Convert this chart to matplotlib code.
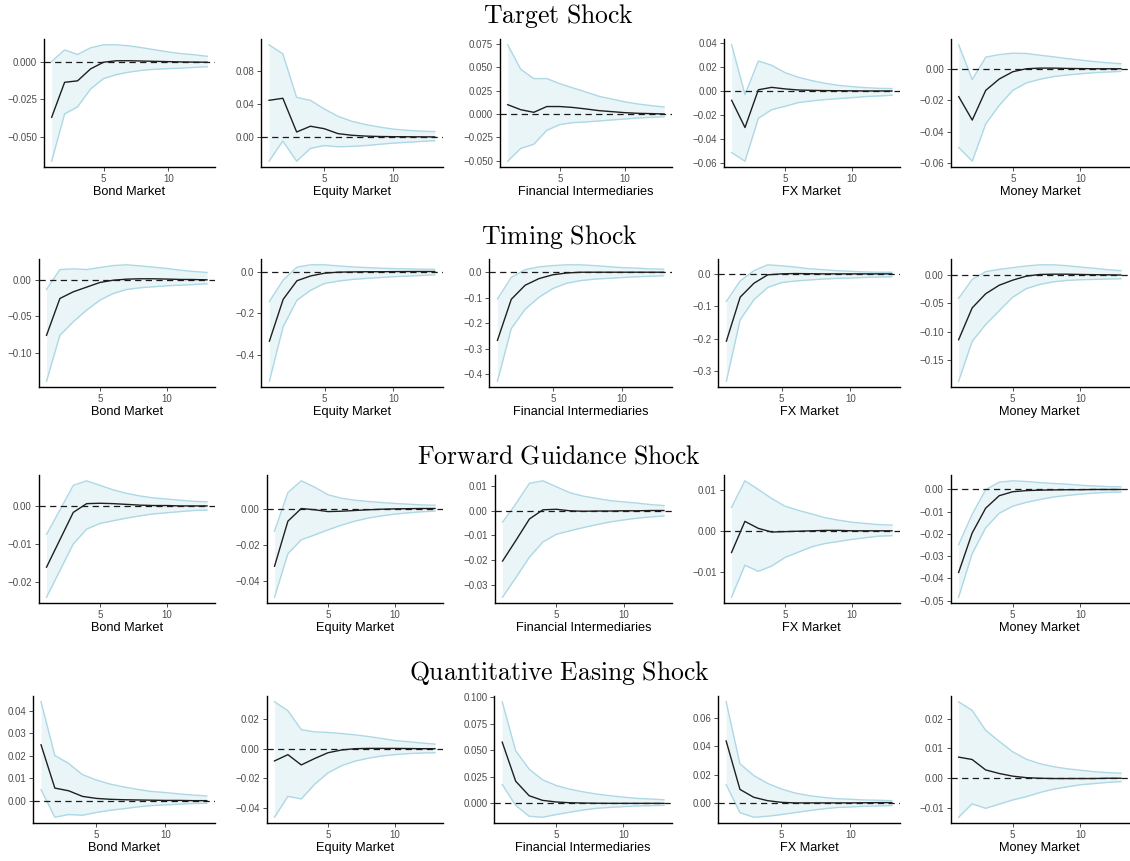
import matplotlib
matplotlib.use("Agg")
import matplotlib.pyplot as plt
import numpy as np

plt.rcParams['font.family'] = ['Liberation Sans', 'DejaVu Sans']
plt.rcParams['mathtext.fontset'] = 'cm'

horizon = list(range(1, 14))
markets = ["Bond Market", "Equity Market", "Financial Intermediaries", "FX Market", "Money Market"]
shocks = ["Target Shock", "Timing Shock", "Forward Guidance Shock", "Quantitative Easing Shock"]

# ---------------- Target shock ----------------
target_est = [
    [-0.037, -0.0135, -0.0125, -0.0045, 0.0000, 0.0010, 0.0010, 0.0008, 0.0006, 0.0004, 0.0002, 0.0001, 0.0000],
    [0.0445, 0.047, 0.006, 0.013, 0.010, 0.004, 0.002, 0.001, 0.0005, 0.0003, 0.0002, 0.0001, 0.0000],
    [0.010, 0.0046, 0.0018, 0.008, 0.008, 0.007, 0.0054, 0.0036, 0.0025, 0.0014, 0.0007, 0.0004, 0.0000],
    [-0.0078, -0.0305, 0.001, 0.003, 0.0017, 0.0008, 0.0005, 0.0003, 0.0002, 0.0001, 0.0, 0.0, 0.0],
    [-0.0177, -0.0326, -0.0137, -0.0065, -0.0019, 0.0, 0.0004, 0.0004, 0.0002, 0.0001, 0.0, 0.0, 0.0],
]
target_lo = [
    [-0.0665, -0.0347, -0.030, -0.018, -0.011, -0.0083, -0.0066, -0.0054, -0.0047, -0.0043, -0.004, -0.0035, -0.003],
    [-0.0295, -0.005, -0.0295, -0.014, -0.0105, -0.012, -0.0115, -0.0105, -0.009, -0.0075, -0.0065, -0.0055, -0.0045],
    [-0.0507, -0.037, -0.0325, -0.0175, -0.0114, -0.0093, -0.0086, -0.0075, -0.0064, -0.0054, -0.0043, -0.0036, -0.003],
    [-0.0514, -0.0586, -0.0228, -0.0156, -0.0128, -0.0097, -0.0083, -0.0072, -0.0064, -0.0056, -0.0047, -0.0042, -0.0036],
    [-0.050, -0.0587, -0.035, -0.0232, -0.0137, -0.009, -0.0067, -0.005, -0.004, -0.0032, -0.0025, -0.0021, -0.0017],
]
target_hi = [
    [0.0005, 0.0083, 0.0052, 0.0097, 0.0117, 0.0117, 0.011, 0.0097, 0.0083, 0.0069, 0.0058, 0.005, 0.004],
    [0.112, 0.101, 0.048, 0.0445, 0.034, 0.025, 0.019, 0.015, 0.012, 0.0095, 0.008, 0.007, 0.0065],
    [0.0743, 0.048, 0.038, 0.038, 0.0325, 0.028, 0.0236, 0.019, 0.016, 0.013, 0.0107, 0.009, 0.0075],
    [0.0385, -0.003, 0.025, 0.0214, 0.0153, 0.0114, 0.0086, 0.0064, 0.0047, 0.0036, 0.0028, 0.0022, 0.002],
    [0.0152, -0.0069, 0.0074, 0.009, 0.0099, 0.0097, 0.0086, 0.0076, 0.0065, 0.0055, 0.0046, 0.0038, 0.0032],
]
target_yticks = [
    ["-0.050", "-0.025", "0.000"],
    ["0.00", "0.04", "0.08"],
    ["-0.050", "-0.025", "0.000", "0.025", "0.050", "0.075"],
    ["-0.06", "-0.04", "-0.02", "0.00", "0.02", "0.04"],
    ["-0.06", "-0.04", "-0.02", "0.00"],
]

# ---------------- Timing shock ----------------
timing_est = [
    [-0.0759, -0.0255, -0.0164, -0.010, -0.0036, -0.0005, 0.0009, 0.0014, 0.0014, 0.001, 0.0005, 0.0004, 0.0],
    [-0.333, -0.133, -0.044, -0.021, -0.008, -0.003, -0.002, -0.001, -0.001, -0.0005, 0.0, 0.0, 0.0],
    [-0.267, -0.106, -0.051, -0.025, -0.010, -0.003, 0.0, 0.0, 0.0, 0.0, 0.0, 0.0, 0.0],
    [-0.208, -0.072, -0.029, -0.003, 0.0, 0.001, 0.0005, 0.0, 0.0, 0.0, 0.0, 0.0, 0.0],
    [-0.114, -0.058, -0.033, -0.018, -0.009, -0.002, 0.001, 0.0015, 0.0015, 0.001, 0.0006, 0.0004, 0.0],
]
timing_lo = [
    [-0.1386, -0.0759, -0.0573, -0.0414, -0.0277, -0.0186, -0.0132, -0.0109, -0.0095, -0.0082, -0.0073, -0.0064, -0.0055],
    [-0.524, -0.263, -0.137, -0.089, -0.057, -0.046, -0.038, -0.033, -0.029, -0.025, -0.022, -0.019, -0.016],
    [-0.427, -0.221, -0.145, -0.098, -0.064, -0.043, -0.033, -0.027, -0.024, -0.021, -0.018, -0.016, -0.014],
    [-0.332, -0.142, -0.080, -0.042, -0.027, -0.022, -0.019, -0.016, -0.014, -0.013, -0.011, -0.010, -0.009],
    [-0.187, -0.117, -0.087, -0.063, -0.039, -0.024, -0.0165, -0.012, -0.0095, -0.0083, -0.0077, -0.007, -0.0065],
]
timing_hi = [
    [-0.0132, 0.014, 0.015, 0.014, 0.0168, 0.0195, 0.0205, 0.019, 0.0173, 0.0155, 0.0132, 0.0114, 0.010],
    [-0.143, -0.041, 0.021, 0.032, 0.032, 0.027, 0.022, 0.019, 0.016, 0.014, 0.013, 0.011, 0.011],
    [-0.105, -0.020, 0.010, 0.021, 0.026, 0.029, 0.029, 0.026, 0.022, 0.018, 0.016, 0.013, 0.012],
    [-0.085, -0.022, 0.010, 0.028, 0.025, 0.021, 0.016, 0.013, 0.010, 0.008, 0.006, 0.005, 0.005],
    [-0.041, -0.008, 0.006, 0.010, 0.013, 0.016, 0.018, 0.018, 0.0165, 0.014, 0.012, 0.0095, 0.0077],
]
timing_yticks = [
    ["-0.10", "-0.05", "0.00"],
    ["-0.4", "-0.2", "0.0"],
    ["-0.4", "-0.3", "-0.2", "-0.1", "0.0"],
    ["-0.3", "-0.2", "-0.1", "0.0"],
    ["-0.15", "-0.10", "-0.05", "0.00"],
]

# ---------------- Forward guidance shock ----------------
fg_est = [
    [-0.0161, -0.0089, -0.0017, 0.0006, 0.0007, 0.0006, 0.0004, 0.0002, 0.0001, 0.0001, 0.0, 0.0, 0.0],
    [-0.0319, -0.007, 0.0, -0.0007, -0.0017, -0.0015, -0.0011, -0.0007, -0.0004, -0.0002, -0.0001, 0.0, 0.0],
    [-0.0204, -0.012, -0.0034, 0.0003, 0.0005, -0.0001, -0.0003, -0.0002, -0.0002, -0.0001, -0.0001, 0.0, 0.0],
    [-0.0052, 0.0024, 0.0007, -0.0002, -0.0001, 0.0, 0.0001, 0.0002, 0.0002, 0.0001, 0.0001, 0.0001, 0.0001],
    [-0.0373, -0.0196, -0.0084, -0.0028, -0.001, -0.0005, -0.0003, -0.0002, -0.0001, -0.0001, 0.0, 0.0, 0.0],
]
fg_lo = [
    [-0.024, -0.017, -0.010, -0.0061, -0.0046, -0.0039, -0.0032, -0.0026, -0.0021, -0.0018, -0.0015, -0.0012, -0.0011],
    [-0.049, -0.025, -0.0173, -0.0146, -0.0118, -0.0092, -0.007, -0.0053, -0.0041, -0.0031, -0.0024, -0.0018, -0.0015],
    [-0.035, -0.027, -0.0188, -0.0127, -0.0096, -0.0082, -0.0069, -0.0057, -0.0046, -0.0038, -0.0031, -0.0026, -0.0022],
    [-0.0161, -0.0083, -0.0098, -0.0085, -0.0064, -0.0051, -0.0038, -0.003, -0.0025, -0.002, -0.0016, -0.0012, -0.0011],
    [-0.0484, -0.0289, -0.0172, -0.0107, -0.0075, -0.0058, -0.0045, -0.0034, -0.0027, -0.0021, -0.0016, -0.0013, -0.0012],
]
fg_hi = [
    [-0.0075, -0.0011, 0.0054, 0.0066, 0.0054, 0.0042, 0.0033, 0.0026, 0.0021, 0.0018, 0.0015, 0.0012, 0.0011],
    [-0.0125, 0.0088, 0.0153, 0.0118, 0.0076, 0.0057, 0.0046, 0.0039, 0.0033, 0.0028, 0.0024, 0.002, 0.0018],
    [-0.0047, 0.0028, 0.011, 0.012, 0.0096, 0.0072, 0.0058, 0.0049, 0.004, 0.0035, 0.003, 0.0024, 0.002],
    [0.0058, 0.0123, 0.0102, 0.008, 0.0061, 0.0051, 0.0042, 0.0033, 0.0027, 0.0022, 0.0019, 0.0016, 0.0015],
    [-0.0248, -0.0112, -0.0001, 0.0033, 0.0039, 0.0036, 0.0031, 0.0027, 0.0024, 0.0019, 0.0016, 0.0013, 0.0012],
]
fg_yticks = [
    ["-0.02", "-0.01", "0.00"],
    ["-0.04", "-0.02", "0.00"],
    ["-0.03", "-0.02", "-0.01", "0.00", "0.01"],
    ["-0.01", "0.00", "0.01"],
    ["-0.05", "-0.04", "-0.03", "-0.02", "-0.01", "0.00"],
]

# ---------------- Quantitative easing shock ----------------
qe_est = [
    [0.0249, 0.0056, 0.0044, 0.0019, 0.001, 0.0006, 0.0004, 0.0003, 0.0002, 0.0001, 0.0001, 0.0, 0.0],
    [-0.0082, -0.004, -0.0109, -0.0066, -0.0027, -0.0009, 0.0, 0.0002, 0.0002, 0.0002, 0.0001, 0.0, 0.0],
    [0.0578, 0.0209, 0.0072, 0.0028, 0.0013, 0.0006, 0.0003, 0.0001, 0.0, 0.0, 0.0, 0.0, 0.0],
    [0.0439, 0.0094, 0.0038, 0.0014, 0.0002, -0.0002, -0.0002, -0.0002, -0.0002, -0.0002, -0.0001, 0.0, 0.0],
    [0.0071, 0.0063, 0.0028, 0.0016, 0.0007, 0.0002, 0.0, -0.0001, -0.0001, -0.0001, -0.0001, 0.0, 0.0],
]
qe_lo = [
    [0.0049, -0.0074, -0.0062, -0.0065, -0.0053, -0.0043, -0.0036, -0.0028, -0.0022, -0.0019, -0.0016, -0.0013, -0.0012],
    [-0.046, -0.032, -0.0337, -0.0239, -0.0162, -0.0115, -0.0084, -0.0064, -0.0049, -0.004, -0.0033, -0.0029, -0.0027],
    [0.0178, -0.0019, -0.0122, -0.0131, -0.0106, -0.0084, -0.0063, -0.0047, -0.0038, -0.0031, -0.0025, -0.0022, -0.0019],
    [0.0128, -0.0071, -0.0104, -0.0097, -0.0085, -0.0071, -0.0057, -0.0045, -0.0035, -0.0031, -0.0026, -0.0024, -0.0021],
    [-0.0131, -0.0086, -0.0101, -0.0087, -0.0073, -0.0062, -0.0048, -0.0037, -0.0029, -0.0022, -0.0018, -0.0014, -0.0011],
]
qe_hi = [
    [0.0441, 0.0201, 0.0166, 0.0116, 0.0092, 0.0074, 0.0061, 0.005, 0.0041, 0.0036, 0.003, 0.0025, 0.0021],
    [0.0315, 0.0255, 0.0128, 0.0113, 0.0109, 0.0102, 0.0093, 0.0082, 0.0069, 0.0055, 0.0047, 0.0038, 0.0031],
    [0.0959, 0.0497, 0.0322, 0.0222, 0.0169, 0.0134, 0.0109, 0.0088, 0.0072, 0.0059, 0.0047, 0.0041, 0.0034],
    [0.0718, 0.0276, 0.0193, 0.0137, 0.0097, 0.0068, 0.005, 0.0038, 0.0028, 0.0024, 0.0019, 0.0017, 0.0014],
    [0.0257, 0.0228, 0.0161, 0.0124, 0.0089, 0.0064, 0.0049, 0.0039, 0.0032, 0.0027, 0.0022, 0.0019, 0.0017],
]
qe_yticks = [
    ["0.00", "0.01", "0.02", "0.03", "0.04"],
    ["-0.04", "-0.02", "0.00", "0.02"],
    ["0.000", "0.025", "0.050", "0.075", "0.100"],
    ["0.00", "0.02", "0.04", "0.06"],
    ["-0.01", "0.00", "0.01", "0.02"],
]

all_est = [target_est, timing_est, fg_est, qe_est]
all_lo = [target_lo, timing_lo, fg_lo, qe_lo]
all_hi = [target_hi, timing_hi, fg_hi, qe_hi]
all_yticks = [target_yticks, timing_yticks, fg_yticks, qe_yticks]

# ---------------- layout (pixels) ----------------
W, H = 1130, 861
fig = plt.figure(figsize=(W / 100, H / 100), dpi=100)
row_top = [39, 259, 475, 696]
row_bot = [167, 387, 603, 823]
title_y = [16, 237, 457, 673]
col_label_left = [7, 235, 463, 692, 919]
col_right = [215, 443, 672, 900, 1129]

FILL = '#eaf5f8'
EDGE = '#add8e6'
axes = []
for r in range(4):
    fig.text(559 / W, 1 - title_y[r] / H, r'$\mathrm{' + shocks[r].replace(' ', r'\ ') + '}$',
             fontsize=18.5, ha='center', va='center')
    for c in range(5):
        ax = fig.add_axes([0.1, 0.1, 0.1, 0.1])
        x = np.array(horizon)
        est = np.array(all_est[r][c])
        lo = np.array(all_lo[r][c])
        hi = np.array(all_hi[r][c])
        ax.fill_between(x, lo, hi, color=FILL, lw=0, zorder=1)
        ax.plot(x, lo, color=EDGE, lw=1.0, zorder=2)
        ax.plot(x, hi, color=EDGE, lw=1.0, zorder=2)
        ax.axhline(0, color='#1a1a1a', lw=0.9, ls=(0, (5, 3.5)), zorder=3)
        ax.plot(x, est, color='#1f1f1f', lw=1.0, zorder=4)
        ymin, ymax = lo.min(), hi.max()
        pad = (ymax - ymin) * 0.05
        ax.set_ylim(ymin - pad, ymax + pad)
        ax.set_xlim(0.4, 13.6)
        labels = all_yticks[r][c]
        ax.set_yticks([float(s) for s in labels])
        ax.set_yticklabels([s.replace('-', '\u2212') for s in labels])
        ax.set_xticks([5, 10])
        ax.set_xticklabels(['5', '10'])
        ax.set_xlabel(markets[c], fontsize=9.2, labelpad=2, color='black')
        for s in ['top', 'right']:
            ax.spines[s].set_visible(False)
        for s in ['left', 'bottom']:
            ax.spines[s].set_linewidth(1.0)
            ax.spines[s].set_color('black')
        ax.tick_params(axis='both', labelsize=7, colors='#333333', labelcolor='#4d4d4d',
                       length=2.8, width=0.6, pad=2)
        ax.set_facecolor('white')
        axes.append((r, c, ax))

fig.canvas.draw()
renderer = fig.canvas.get_renderer()
for r, c, ax in axes:
    wmax = max(t.get_window_extent(renderer).width for t in ax.get_yticklabels())
    left = col_label_left[c] + wmax + 7
    right = col_right[c]
    ax.set_position([left / W, 1 - row_bot[r] / H, (right - left) / W, (row_bot[r] - row_top[r]) / H])

fig.savefig('out.png', dpi=100, facecolor='white')
